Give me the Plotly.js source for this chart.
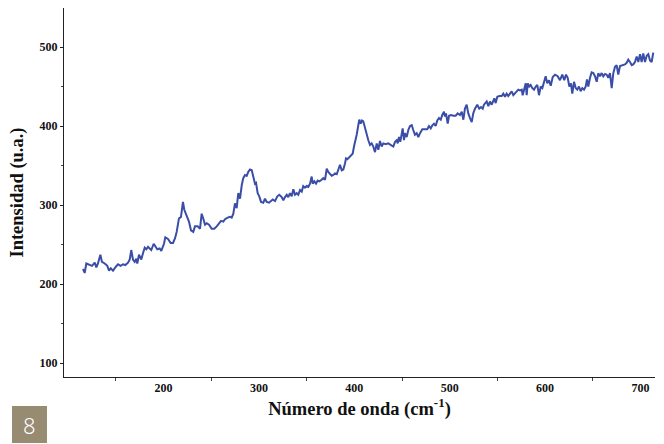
<!DOCTYPE html>
<html>
<head>
<meta charset="utf-8">
<script src="https://cdn.plot.ly/plotly-3.0.1.min.js"></script>
<style>html,body{margin:0;padding:0;background:#fff;}#chart{width:664px;height:444px;}</style>
</head>
<body>
<div id="chart"></div>
<script>
const wavenumber = [115.6,117.4,119.1,122.6,125.1,127.9,129.6,131.3,133.8,135.5,138.4,141.1,142.9,144.7,147.1,149.5,152.3,155.1,157.5,160.0,162.8,164.6,166.2,168.0,169.8,171.5,172.5,174.3,176.7,178.5,180.3,182.0,183.8,185.5,187.2,189.7,191.4,193.5,196.0,197.7,200.5,201.9,204.7,207.5,210.0,
212.1,213.8,216.2,218.3,220.4,221.8,224.3,226.7,228.8,231.2,233.0,235.8,238.3,240.0,241.7,243.5,245.3,247.7,250.5,253.2,255.8,258.2,260.3,262.7,264.5,267.3,269.7,271.5,273.2,274.9,276.7,278.4,280.2,282.0,283.6,285.4,287.2,288.9,290.7,292.5,294.1,295.9,297.0,298.7,300.4,302.2,304.6,306.4,308.2,310.6,
314.5,316.9,319.3,321.4,323.9,325.6,327.4,329.2,330.8,332.6,334.4,336.1,337.8,339.6,341.3,343.1,344.9,346.5,348.3,350.1,351.8,353.6,355.3,356.4,358.1,359.9,361.6,363.3,365.8,367.5,369.3,371.1,372.7,374.5,376.3,378.0,379.8,381.6,383.2,385.0,386.8,388.5,390.3,391.3,392.7,394.8,396.5,398.3,399.7,401.0,402.5,404.2,405.2,406.7,408.1,409.4,411.2,
413.0,414.7,416.5,418.2,419.9,421.7,423.5,425.2,426.9,428.7,430.4,432.9,435.6,438.5,440.9,442.7,444.4,445.5,446.9,448.2,449.7,450.7,452.1,453.1,454.9,456.6,458.4,460.2,461.8,463.6,465.4,467.1,468.9,471.3,474.1,476.5,478.3,480.1,481.8,483.5,485.3,487.0,488.8,490.6,492.2,494.0,495.0,496.1,497.9,499.3,501.4,503.8,506.3,508.4,
510.8,512.6,514.3,516.0,517.8,519.5,521.3,523.1,524.7,526.5,528.9,531.0,532.8,534.6,535.9,537.3,538.8,540.5,542.2,544.0,545.7,546.8,548.2,549.9,552.0,554.5,556.2,558.0,559.7,561.4,563.2,565.0,566.7,568.4,570.2,571.9,573.7,575.5,576.5,578.2,579.7,580.7,581.8,583.4,584.9,586.6,588.4,590.2,591.8,593.6,595.4,597.1,598.8,600.6,602.3,604.1,605.9,608.0,
610.4,613.2,615.6,618.0,620.1,621.9,623.7,625.4,627.1,628.5,630.3,632.1,633.7,635.5,637.3,639.0,640.8,642.6,643.9,645.3,647.1,648.8,650.5,652.3,654.1,655.8,657.5,659.3,661.0,662.8,664.6,666.2,668.0,669.8,671.5,673.3,675.0,676.7,678.5,680.3,682.0,683.7,685.5,687.2,689.0,690.8,692.4,694.2,696.0,697.7,699.5,701.2,702.9,704.7,706.5,708.2,710.0,711.7,713.4];

const intensity = [219,214,226,224,223,227,221,226,237,228,226,223,217,220,217,221,225,223,225,224,227,231,243,231,228,232,226,237,231,239,246,244,247,245,243,251,247,244,245,242,251,259,257,252,252,
258,266,283,285,304,294,287,279,268,266,273,273,270,289,283,275,277,275,270,270,273,277,280,279,282,284,285,284,289,302,296,315,308,325,334,338,337,342,345,344,336,327,328,315,311,304,303,308,304,303,
307,305,311,313,310,306,310,313,310,315,311,320,313,315,313,319,317,324,322,324,323,327,336,327,330,327,331,330,332,334,332,346,342,340,337,338,340,339,344,351,344,345,353,359,358,361,362,365,374,380,389,401,408,403,407,406,397,
391,382,376,378,374,367,378,370,381,374,378,377,378,376,374,380,382,378,386,380,391,397,382,391,386,395,400,401,395,389,391,386,391,396,396,396,400,397,401,403,400,407,410,408,414,418,412,416,403,413,414,413,413,416,
414,418,408,422,427,416,410,405,416,422,427,422,424,422,427,429,431,425,431,427,433,435,429,437,438,438,441,437,441,438,441,444,439,441,444,446,445,446,439,446,454,439,454,450,452,448,446,450,452,439,450,448,456,463,454,458,451,462,
465,463,458,465,458,465,461,450,454,441,456,448,446,450,444,448,446,450,459,450,461,468,467,463,456,467,463,467,463,466,465,461,467,448,467,475,477,465,476,477,477,478,480,484,481,477,478,481,488,481,491,481,492,481,489,491,483,481,493];

const xTickVals = [200,300,400,500,600,700];
const yTickVals = [100,200,300,400,500];
const xTitle = 'Número de onda (cm<sup>-1</sup>)';
const yTitle = 'Intensidad (u.a.)';
const badgeText = '8';

const tickFont = {family: 'Liberation Serif, Times New Roman, serif', size: 12, color: '#111', weight: 'bold'};
const titleFont = {family: 'Liberation Serif, Times New Roman, serif', size: 18.5, color: '#111', weight: 'bold'};

const trace = {
  x: wavenumber, y: intensity, type: 'scatter', mode: 'lines',
  line: {color: '#3a4ea8', width: 2}, hoverinfo: 'skip'
};

const layout = {
  width: 664, height: 444,
  margin: {l: 64, r: 9, t: 8, b: 67},
  paper_bgcolor: '#fff', plot_bgcolor: '#fff',
  showlegend: false,
  xaxis: {
    range: [95.7, 715.2], showgrid: false, zeroline: false,
    showline: true, linecolor: '#222', linewidth: 1,
    tickvals: xTickVals, ticktext: xTickVals.map(String),
    ticks: '', ticklen: 0, tickfont: tickFont,
    minor: {tickvals: [150,250,350,450,550,650], ticks: 'outside', ticklen: 3, tickcolor: '#444', showgrid: false},
    title: {text: xTitle, font: titleFont, standoff: 5}
  },
  yaxis: {
    range: [82.3, 549.4], showgrid: false, zeroline: false,
    showline: true, linecolor: '#222', linewidth: 1,
    tickvals: yTickVals, ticktext: yTickVals.map(String),
    ticks: 'outside', ticklen: 3, tickcolor: '#222', tickfont: tickFont,
    minor: {tickvals: [150,250,350,450], ticks: 'outside', ticklen: 2, tickcolor: '#444', showgrid: false},
    title: {text: yTitle, font: titleFont, standoff: 11}
  },
  shapes: [{
    type: 'rect', xref: 'paper', yref: 'paper',
    x0: -0.088, x1: -0.0288, y0: -0.1789, y1: -0.0786,
    fillcolor: '#978b71', line: {width: 0}, layer: 'above'
  }],
  annotations: [{
    text: badgeText, xref: 'paper', yref: 'paper',
    x: -0.0584, y: -0.1288, xanchor: 'center', yanchor: 'middle',
    showarrow: false, font: {family: 'Noto Sans, sans-serif', size: 22, color: '#ffffff', weight: 300}
  }]
};

Plotly.newPlot('chart', [trace], layout, {displayModeBar: false, staticPlot: true});
</script>
</body>
</html>
